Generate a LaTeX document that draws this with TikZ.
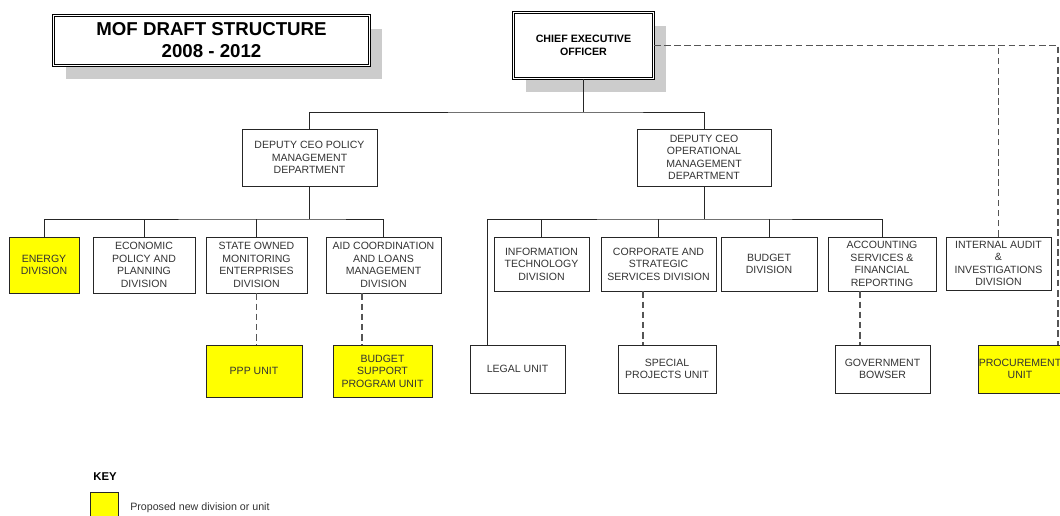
\documentclass[tikz,border=0pt]{standalone}
\usepackage{fontspec}
\setmainfont{Liberation Sans}
\usetikzlibrary{shadows,calc}
\definecolor{ylw}{HTML}{FFFF00}
\definecolor{shd}{HTML}{CCCCCC}
\definecolor{dshc}{HTML}{555555}
\definecolor{txt}{HTML}{333333}
\begin{document}
\begin{tikzpicture}[x=0.75pt,y=-0.75pt,
  box/.style={draw=black!85, line width=0.6pt, fill=white, align=center, text=txt,
    font=\fontsize{7.9}{9.4}\selectfont, inner sep=0pt},
  wh/.style 2 args={minimum width=#1*0.75pt, minimum height=#2*0.75pt},
  newbox/.style={box, fill=ylw},
  dbl/.style={draw=black, double=white, double distance=1.2pt, line width=0.5pt, fill=white,
    align=center, inner sep=0pt,
    drop shadow={shadow xshift=9pt, shadow yshift=-10pt, fill=shd, opacity=1}},
  tree/.style={draw=black!85, line width=0.6pt},
  dl/.style={draw=dshc, line width=0.9pt, dash pattern=on 5pt off 2.6pt},
]
\useasboundingbox (0,0) rectangle (1060,515);
\fill[white] (0,0) rectangle (1060,515);

% title and CEO
\node[dbl, wh={316}{50}, font=\bfseries\fontsize{14}{16.5}\selectfont] (title) at (211.5,40.5) {MOF DRAFT STRUCTURE\\2008 - 2012};
\node[dbl, wh={140}{66}, font=\bfseries\fontsize{8}{9.4}\selectfont] (ceo) at (583.5,45.5) {CHIEF EXECUTIVE\\OFFICER};

% deputies
\node[box, wh={135}{57}] (dpol) at (309.5,157.5) {DEPUTY CEO POLICY\\MANAGEMENT\\DEPARTMENT};
\node[box, wh={134}{57}] (dops) at (704,157.5) {DEPUTY CEO\\OPERATIONAL\\MANAGEMENT\\DEPARTMENT};

% policy divisions
\node[newbox, wh={70}{56}] (energy) at (44,265) {ENERGY\\DIVISION};
\node[box, wh={102}{56}] (econ) at (144,265) {ECONOMIC\\POLICY AND\\PLANNING\\DIVISION};
\node[box, wh={101}{56}] (state) at (256.5,265) {STATE OWNED\\MONITORING\\ENTERPRISES\\DIVISION};
\node[box, wh={115}{56}] (aid) at (383.5,265) {AID COORDINATION\\AND LOANS\\MANAGEMENT\\DIVISION};

% operational divisions
\node[box, wh={95}{54}] (it) at (541.5,264) {INFORMATION\\TECHNOLOGY\\DIVISION};
\node[box, wh={115}{54}] (corp) at (658.5,264) {CORPORATE AND\\STRATEGIC\\SERVICES DIVISION};
\node[box, wh={96}{54}] (bud) at (769,264) {BUDGET\\DIVISION};
\node[box, wh={108}{54}] (acc) at (882,264) {ACCOUNTING\\SERVICES \&\\FINANCIAL\\REPORTING};
\node[box, wh={105}{53}] (ia) at (998.5,263.5) {INTERNAL AUDIT\\\&\\INVESTIGATIONS\\DIVISION};

% units
\node[newbox, wh={96}{52}] (ppp) at (254,371) {PPP UNIT};
\node[newbox, wh={99}{52}] (bsp) at (382.5,371) {BUDGET\\SUPPORT\\PROGRAM UNIT};
\node[box, wh={95}{48}] (legal) at (517.5,369) {LEGAL UNIT};
\node[box, wh={98}{48}] (spec) at (667,369) {SPECIAL\\PROJECTS UNIT};
\node[box, wh={95}{48}] (gov) at (882.5,369) {GOVERNMENT\\BOWSER};
\node[newbox, wh={84}{48}] (proc) at (1020,369) {PROCUREMENT\\UNIT};

% key
\node[font=\bfseries\fontsize{8.5}{9}\selectfont] (key) at (105,477) {KEY};
\node[draw=black!85, line width=0.6pt, fill=ylw, inner sep=0pt, wh={28}{28}] (keybox) at (104,506) {};
\node[anchor=west, inner sep=0pt, text=txt, font=\fontsize{8}{9}\selectfont] (keytxt) at (130,508) {Proposed new division or unit};

% solid connectors
\coordinate (j0) at (583.5,112);
\draw[tree] (ceo.south) -- (j0);
\draw[tree] (dpol.north) |- (j0) -| (dops.north);

\coordinate (j1) at (309.5,219);
\draw[tree] (dpol.south) -- (j1);
\draw[tree] (energy.north) |- (j1) -| (aid.north);
\draw[tree] (econ.north) -- (econ.north |- j1);
\draw[tree] (state.north) -- (state.north |- j1);

\coordinate (j2) at (704,219);
\coordinate (lg) at ($(legal.north)+(-30.5,0)$);
\draw[tree] (dops.south) -- (j2);
\draw[tree] (lg) |- (j2) -| (acc.north);
\draw[tree] (it.north) -- (it.north |- j2);
\draw[tree] (corp.north) -- (corp.north |- j2);
\draw[tree] (bud.north) -- (bud.north |- j2);

% dashed connectors
\draw[dl] (state.south) -- (state.south |- ppp.north);
\coordinate (a1) at ($(aid.south)+(-21.5,0)$);
\draw[dl] (a1) -- (a1 |- bsp.north);
\coordinate (c1) at ($(corp.south)+(-15.5,0)$);
\draw[dl] (c1) -- (c1 |- spec.north);
\coordinate (g1) at ($(acc.south)+(-22,0)$);
\draw[dl] (g1) -- (g1 |- gov.north);
\coordinate (r1) at (1058,45.5);
\draw[dl] (ceo.east) -- (r1) -- (r1 |- proc.north);
\draw[dl] (ia.north) -- (ia.north |- ceo.east);
\end{tikzpicture}
\end{document}
